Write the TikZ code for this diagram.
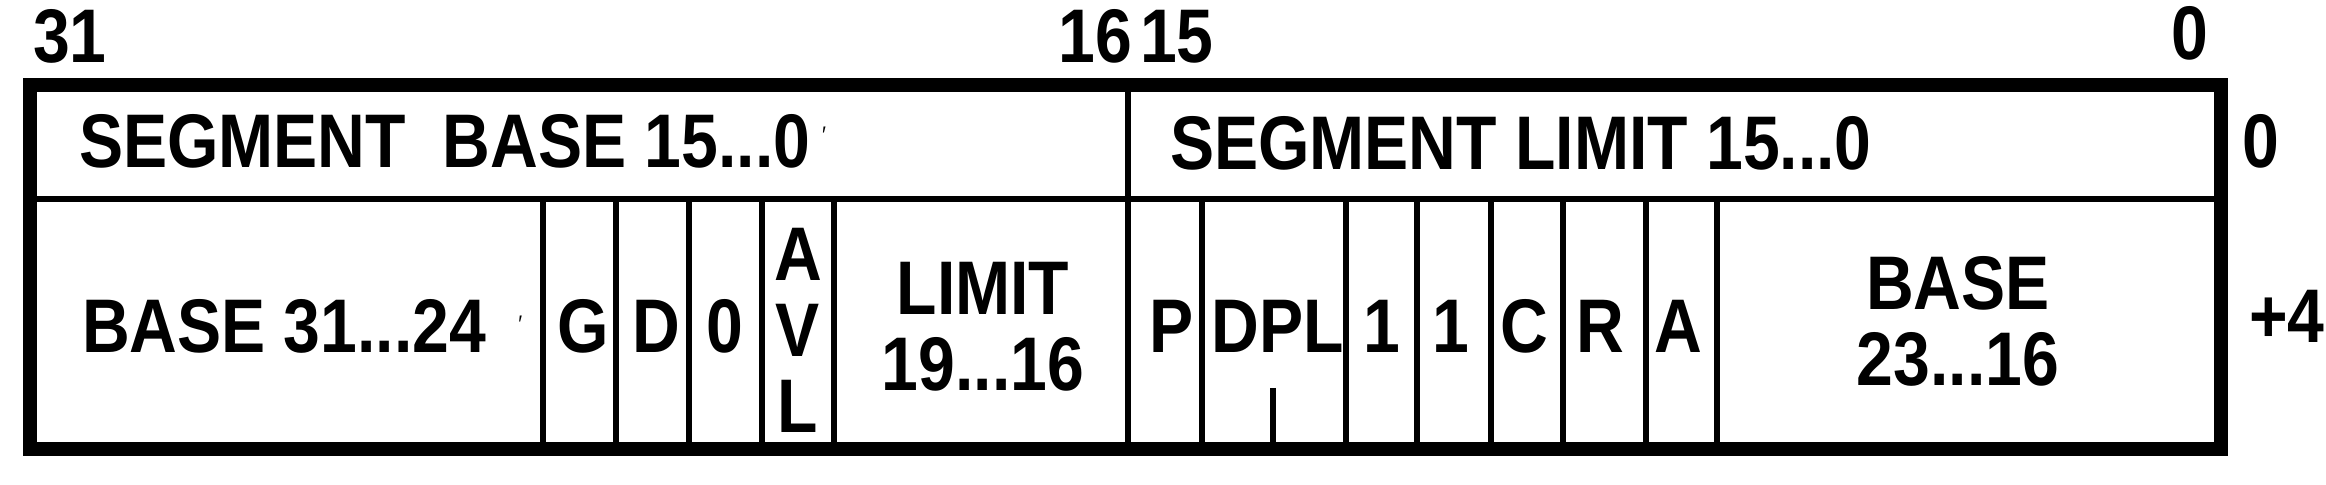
\documentclass[tikz,border=0pt]{standalone}
\usepackage{fontspec}
\newfontfamily\lab{Liberation Sans}[FakeStretch=0.87]
\begin{document}
\begin{tikzpicture}[x=0.5pt,y=-0.5pt,
  lbl/.style={inner sep=0pt,outer sep=0pt,font=\lab\bfseries\fontsize{38pt}{38pt}\selectfont,align=center},
  thin/.style={line width=3.25pt},
  thick/.style={line width=7pt,line join=miter}]
\useasboundingbox (0,0) rectangle (2326,485);
% corners of the outer frame
\coordinate (tl) at (30,85);
\coordinate (br) at (2221,449);
\coordinate (ml) at (30,199);
\coordinate (mr) at (2221,199);
% row divider and verticals
\draw[thin] (ml) -- (mr);
\coordinate (td0) at (1128,85);
\coordinate (td1) at (1128,199);
\draw[thin] (td0) -- (td1);
\foreach \x in {543,616,689,762,834,1128,1202,1346,1417,1491,1563,1646,1717}{
  \draw[thin] (\x,199) -- (\x,449);
}
\coordinate (dpltick) at (1273,388);
\coordinate (dplbot) at (1273,449);
\draw[thin] (dpltick) -- (dplbot);
\draw[thick] (tl) rectangle (br);
% bit numbers
\node[lbl,anchor=base west] (b31) at (33,63) {31};
\node[lbl,anchor=base east] (b16) at (1132,63) {16};
\node[lbl,anchor=base west] (b15) at (1140,63) {15};
\node[lbl,anchor=base east] (b0) at (2208,60) {0};
% offsets
\node[lbl,anchor=base west] (off0) at (2242,168) {0};
\node[lbl,anchor=base west] (off4) at (2249,343) {+4};
% top row
\node[lbl,anchor=base west] (segbase) at (79,168) {SEGMENT\ \ BASE 15...0\kern6pt\raisebox{12pt}{\fontsize{12pt}{12pt}\selectfont\mdseries ′}};
\node[lbl,anchor=base west] (seglim) at (1170,170) {SEGMENT LIMIT 15...0};
% bottom row
\node[lbl,anchor=base west] (base3124) at (82,353) {BASE 31...24\kern16pt\raisebox{10pt}{\fontsize{12pt}{12pt}\selectfont\mdseries ′}};
\node[lbl,anchor=base] (g) at (583,353) {G};
\node[lbl,anchor=base] (d) at (656,353) {D};
\node[lbl,anchor=base] (z) at (725,353) {0};
\node[lbl] (avl) at (798,330) {A\\V\\L};
\node[lbl] (lim) at (983,327) {LIMIT\\19...16};
\node[lbl,anchor=base] (p) at (1172,353) {P};
\node[lbl,anchor=base] (dpl) at (1278,353) {DPL};
\node[lbl,anchor=base] (one1) at (1382,353) {1};
\node[lbl,anchor=base] (one2) at (1451,353) {1};
\node[lbl,anchor=base] (c) at (1524,353) {C};
\node[lbl,anchor=base] (r) at (1600,353) {R};
\node[lbl,anchor=base] (a) at (1678,353) {A};
\node[lbl] (base2316) at (1958,321) {BASE\\23...16};
\end{tikzpicture}
\end{document}
